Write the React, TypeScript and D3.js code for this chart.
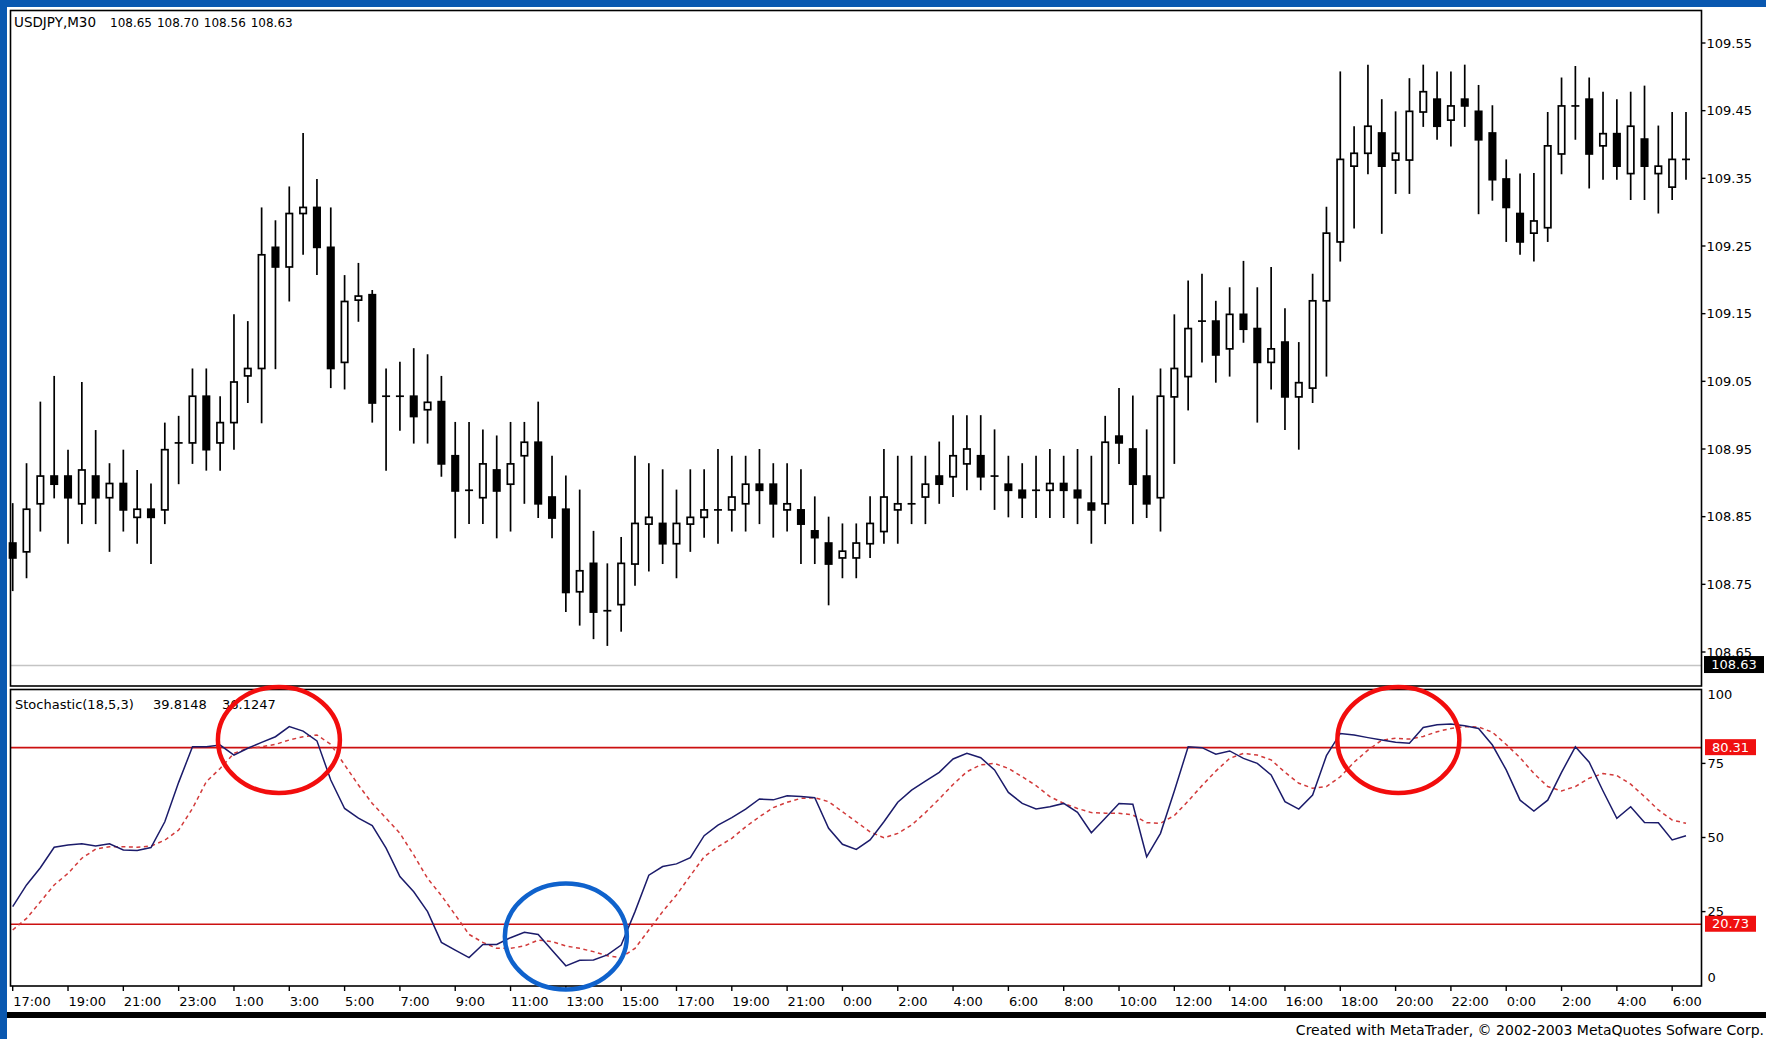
import React from 'react';
import * as d3 from 'd3';

// USDJPY M30 candles (open / high / low / close)
const opens = [
  108.811, 108.798, 108.869, 108.910, 108.910, 108.869, 108.910, 108.878, 108.899, 108.849,
  108.861, 108.860, 108.959, 108.959, 109.028, 108.959, 108.989, 109.058, 109.069, 109.248,
  109.219, 109.298, 109.307, 109.248, 109.078, 109.170, 109.178, 109.028, 109.028, 109.028,
  109.008, 109.020, 108.940, 108.889, 108.878, 108.919, 108.898, 108.940, 108.960, 108.879,
  108.861, 108.739, 108.781, 108.711, 108.720, 108.780, 108.839, 108.840, 108.810, 108.839,
  108.849, 108.860, 108.860, 108.869, 108.898, 108.898, 108.860, 108.860, 108.829, 108.811,
  108.789, 108.789, 108.810, 108.828, 108.860, 108.869, 108.879, 108.910, 108.909, 108.928,
  108.940, 108.910, 108.898, 108.889, 108.889, 108.889, 108.899, 108.889, 108.870, 108.869,
  108.969, 108.950, 108.910, 108.878, 109.027, 109.057, 109.139, 109.139, 109.098, 109.149,
  109.128, 109.078, 109.108, 109.027, 109.040, 109.169, 109.256, 109.368, 109.387, 109.417,
  109.377, 109.377, 109.448, 109.467, 109.436, 109.467, 109.449, 109.417, 109.349, 109.298,
  109.269, 109.277, 109.386, 109.457, 109.467, 109.398, 109.416, 109.357, 109.408, 109.357,
  109.337, 109.378,
];
const highs = [
  108.870, 108.929, 109.020, 109.058, 108.949, 109.049, 108.978, 108.929, 108.949, 108.919,
  108.899, 108.989, 108.999, 109.069, 109.069, 109.028, 109.149, 109.139, 109.307, 109.288,
  109.338, 109.417, 109.349, 109.307, 109.207, 109.225, 109.185, 109.069, 109.079, 109.099,
  109.090, 109.058, 108.990, 108.990, 108.979, 108.970, 108.990, 108.990, 109.020, 108.940,
  108.911, 108.890, 108.829, 108.781, 108.820, 108.940, 108.929, 108.920, 108.890, 108.920,
  108.920, 108.950, 108.940, 108.940, 108.950, 108.929, 108.929, 108.920, 108.880, 108.850,
  108.840, 108.840, 108.880, 108.950, 108.940, 108.940, 108.940, 108.961, 109.000, 109.000,
  109.000, 108.979, 108.940, 108.929, 108.940, 108.950, 108.940, 108.950, 108.940, 108.999,
  109.040, 109.029, 108.979, 109.069, 109.149, 109.199, 109.209, 109.169, 109.189, 109.228,
  109.189, 109.219, 109.158, 109.108, 109.209, 109.308, 109.508, 109.427, 109.518, 109.467,
  109.449, 109.498, 109.518, 109.508, 109.508, 109.518, 109.488, 109.458, 109.378, 109.357,
  109.358, 109.448, 109.499, 109.516, 109.499, 109.478, 109.467, 109.478, 109.487, 109.428,
  109.448, 109.448,
];
const lows = [
  108.740, 108.759, 108.828, 108.877, 108.810, 108.839, 108.839, 108.798, 108.828, 108.810,
  108.780, 108.839, 108.898, 108.928, 108.918, 108.918, 108.949, 109.018, 108.988, 109.068,
  109.168, 109.237, 109.207, 109.040, 109.038, 109.138, 108.989, 108.918, 108.977, 108.958,
  108.958, 108.909, 108.818, 108.839, 108.839, 108.818, 108.828, 108.869, 108.848, 108.818,
  108.709, 108.689, 108.669, 108.659, 108.680, 108.748, 108.769, 108.780, 108.759, 108.798,
  108.819, 108.810, 108.828, 108.828, 108.839, 108.819, 108.828, 108.780, 108.780, 108.719,
  108.759, 108.759, 108.789, 108.810, 108.810, 108.839, 108.839, 108.869, 108.879, 108.889,
  108.889, 108.860, 108.849, 108.848, 108.848, 108.848, 108.848, 108.839, 108.810, 108.839,
  108.928, 108.839, 108.848, 108.828, 108.928, 109.007, 109.078, 109.048, 109.057, 109.107,
  108.989, 109.038, 108.978, 108.949, 109.018, 109.057, 109.227, 109.276, 109.356, 109.268,
  109.327, 109.327, 109.426, 109.407, 109.397, 109.426, 109.297, 109.317, 109.256, 109.237,
  109.227, 109.256, 109.356, 109.407, 109.335, 109.348, 109.348, 109.318, 109.318, 109.298,
  109.318, 109.348,
];
const closes = [
  108.789, 108.861, 108.910, 108.898, 108.878, 108.919, 108.878, 108.899, 108.860, 108.861,
  108.849, 108.949, 108.959, 109.028, 108.949, 108.989, 109.049, 109.069, 109.237, 109.219,
  109.298, 109.307, 109.248, 109.069, 109.168, 109.176, 109.018, 109.028, 109.028, 108.998,
  109.019, 108.928, 108.888, 108.889, 108.928, 108.888, 108.928, 108.960, 108.869, 108.848,
  108.738, 108.770, 108.709, 108.711, 108.781, 108.840, 108.849, 108.810, 108.840, 108.849,
  108.860, 108.860, 108.879, 108.898, 108.889, 108.869, 108.869, 108.839, 108.819, 108.780,
  108.799, 108.811, 108.840, 108.879, 108.869, 108.869, 108.898, 108.898, 108.940, 108.950,
  108.909, 108.910, 108.889, 108.878, 108.889, 108.899, 108.889, 108.878, 108.860, 108.960,
  108.959, 108.898, 108.869, 109.028, 109.069, 109.128, 109.139, 109.089, 109.149, 109.127,
  109.078, 109.098, 109.027, 109.048, 109.169, 109.269, 109.378, 109.387, 109.427, 109.368,
  109.387, 109.449, 109.478, 109.427, 109.457, 109.457, 109.407, 109.348, 109.307, 109.256,
  109.287, 109.398, 109.457, 109.457, 109.386, 109.416, 109.368, 109.427, 109.368, 109.368,
  109.378, 109.378,
];

// Stochastic(18,5,3): %K main line and %D signal line
const stochMain = [
  26.7, 34.0, 39.8, 46.7, 47.5, 47.9, 47.1, 47.9, 45.8, 45.6,
  46.6, 55.3, 68.6, 80.6, 80.6, 81.2, 77.8, 80.1, 82.1, 84.0,
  87.4, 85.9, 82.6, 69.4, 59.8, 56.5, 54.0, 46.4, 36.8, 31.7,
  25.0, 14.6, 12.0, 9.5, 13.9, 13.9, 16.2, 18.0, 17.3, 12.0,
  6.7, 8.6, 8.7, 10.4, 13.7, 25.0, 37.3, 40.2, 41.1, 43.2,
  50.6, 54.2, 56.7, 59.6, 63.0, 62.7, 64.1, 63.8, 63.4, 53.1,
  47.7, 46.0, 49.2, 55.3, 61.9, 66.0, 69.0, 72.0, 76.5, 78.4,
  76.9, 72.8, 65.2, 61.5, 59.6, 60.4, 61.5, 58.5, 51.6, 56.5,
  61.5, 61.2, 43.5, 51.4, 65.7, 80.6, 80.3, 78.1, 79.2, 76.7,
  75.0, 71.1, 62.1, 59.6, 64.3, 77.6, 85.1, 84.6, 83.7, 82.9,
  82.1, 81.8, 87.1, 88.0, 88.3, 87.7, 86.8, 81.2, 72.8, 62.6,
  58.9, 62.6, 72.0, 80.6, 75.4, 65.7, 56.5, 60.4, 55.1, 55.0,
  49.2, 50.6,
];
const stochSignal = [
  18.8, 22.7, 28.3, 34.0, 37.9, 43.0, 46.1, 46.9, 46.9, 46.7,
  47.1, 49.1, 52.5, 59.8, 68.8, 73.3, 78.4, 80.1, 80.6, 81.4,
  82.9, 84.0, 84.6, 81.4, 74.5, 67.7, 61.5, 56.5, 51.4, 44.1,
  36.2, 30.4, 23.9, 17.3, 14.6, 12.6, 12.6, 13.4, 15.4, 14.9,
  13.4, 12.6, 11.5, 10.1, 9.5, 12.6, 18.8, 25.0, 30.6, 37.1,
  43.5, 46.9, 49.7, 53.6, 57.0, 60.1, 61.9, 63.2, 63.4, 62.1,
  58.7, 55.3, 51.9, 49.9, 51.4, 54.2, 58.4, 63.0, 67.9, 72.2,
  74.5, 75.0, 73.3, 70.5, 67.5, 63.8, 61.5, 59.8, 58.4, 58.2,
  58.2, 57.6, 55.0, 54.8, 57.4, 62.3, 67.5, 72.4, 76.7, 78.4,
  77.8, 76.2, 72.0, 68.3, 66.6, 67.2, 70.5, 75.4, 79.5, 82.8,
  83.5, 83.2, 84.1, 85.7, 86.8, 87.4, 87.3, 85.5, 81.4, 76.9,
  71.6, 67.2, 65.7, 67.2, 70.0, 71.6, 70.9, 68.0, 63.8, 59.3,
  55.9, 54.8,
];

const stochLevels = [80.31, 20.73];
const stochTicks = [100, 75, 50, 25, 0];
const priceTicks = [109.55, 109.45, 109.35, 109.25, 109.15, 109.05, 108.95, 108.85, 108.75, 108.65];
const lastPrice = 108.63;

// one label every 4 bars
const timeLabels = [
  '17:00', '19:00', '21:00', '23:00', '1:00', '3:00', '5:00', '7:00', '9:00', '11:00',
  '13:00', '15:00', '17:00', '19:00', '21:00', '0:00', '2:00', '4:00', '6:00', '8:00',
  '10:00', '12:00', '14:00', '16:00', '18:00', '20:00', '22:00', '0:00', '2:00', '4:00', '6:00',
];

const headerValues = ['108.65', '108.70', '108.56', '108.63'];
const stochValues = ['39.8148', '36.1247'];

// hand drawn circles: [bar index, stochastic value, colour]
const marks: [number, number, string][] = [
  [19.25, 82.9, '#f20d0d'],
  [40.0, 16.6, '#0f62cc'],
  [100.2, 82.9, '#f20d0d'],
];

const W = 1766;
const H = 1039;
const left = 10.5;
const right = 1701.5;
const top = 10.5;
const mainBottom = 686;
const subTop = 689.5;
const subBottom = 986;
const font = '"DejaVu Sans", Verdana, sans-serif';
const blue = '#0a58b0';

export default function App() {
  const n = closes.length;
  const x = d3.scaleLinear().domain([0, 121]).range([12.7, 1686]);
  const y = d3.scaleLinear().domain([108.65, 109.55]).range([652, 43]);
  const ys = d3.scaleLinear().domain([0, 100]).range([985.7, 689.3]);

  const lineK = d3.line<number>().x((_, i) => x(i)).y(d => ys(d));
  const bw = 6.4;

  return (
    <svg width={W} height={H} style={{ position: 'absolute', left: 0, top: 0, background: '#fff' }}
      fontFamily={font}>
      <rect x={0} y={0} width={W} height={H} fill="#fff" />
      <rect x={0} y={0} width={W} height={7} fill={blue} />
      <rect x={0} y={0} width={7} height={H} fill={blue} />

      {/* price line */}
      <line x1={left} x2={right} y1={y(lastPrice)} y2={y(lastPrice)} stroke="#c4c4c4" strokeWidth={1.4} />

      {/* candles */}
      <g stroke="#000" strokeWidth={1.7}>
        {d3.range(n).map(i => {
          const cx = x(i);
          const o = opens[i], c = closes[i];
          const y0 = y(Math.max(o, c));
          const y1 = y(Math.min(o, c));
          return (
            <g key={i}>
              <line x1={cx} x2={cx} y1={y(highs[i])} y2={y(lows[i])} />
              {Math.abs(y1 - y0) < 1.5
                ? <line x1={cx - 4} x2={cx + 4} y1={y(c)} y2={y(c)} />
                : <rect x={cx - bw / 2} y={y0} width={bw} height={y1 - y0} fill={c > o ? '#fff' : '#000'} />}
            </g>
          );
        })}
      </g>

      {/* stochastic levels */}
      {stochLevels.map(v => (
        <line key={v} x1={left} x2={right} y1={ys(v)} y2={ys(v)} stroke="#cc1010" strokeWidth={1.6} />
      ))}
      <path d={lineK(stochSignal) || ''} fill="none" stroke="#d23a3a" strokeWidth={1.5} strokeDasharray="4 3.5" />
      <path d={lineK(stochMain) || ''} fill="none" stroke="#1b1b6a" strokeWidth={1.5} />

      {/* frames */}
      <g fill="none" stroke="#000" strokeWidth={1.6}>
        <rect x={left} y={top} width={right - left} height={mainBottom - top} />
        <rect x={left} y={subTop} width={right - left} height={subBottom - subTop} />
      </g>

      {/* price axis */}
      <g fontSize={13} fill="#000">
        {priceTicks.map(p => (
          <g key={p}>
            <line x1={right} x2={right + 4} y1={y(p)} y2={y(p)} stroke="#000" strokeWidth={1.4} />
            <text x={right + 5} y={y(p)} dy="0.36em">{p.toFixed(2)}</text>
          </g>
        ))}
      </g>
      <rect x={1704} y={y(lastPrice) - 9.5} width={60} height={17} fill="#000" />
      <text x={1734} y={y(lastPrice) - 1} dy="0.36em" fontSize={13} fill="#fff" textAnchor="middle">
        {lastPrice.toFixed(2)}
      </text>

      {/* stochastic axis */}
      <g fontSize={13} fill="#000">
        {stochTicks.map(v => {
          const ty = Math.min(Math.max(ys(v), subTop + 5), subBottom - 9);
          return (
            <g key={v}>
              {v > 0 && v < 100 && (
                <line x1={right} x2={right + 4} y1={ys(v)} y2={ys(v)} stroke="#000" strokeWidth={1.4} />
              )}
              <text x={right + 6} y={ty} dy="0.36em">{v}</text>
            </g>
          );
        })}
      </g>
      {stochLevels.map(v => (
        <g key={'l' + v}>
          <rect x={1705} y={ys(v) - 8.5} width={51} height={16} fill="#f01010" />
          <text x={1730.5} y={ys(v) - 0.5} dy="0.36em" fontSize={13} fill="#fff" textAnchor="middle">
            {v.toFixed(2)}
          </text>
        </g>
      ))}

      {/* time axis */}
      <g fontSize={13} fill="#000">
        {timeLabels.map((t, k) => (
          <g key={k}>
            <line x1={x(k * 4)} x2={x(k * 4)} y1={subBottom} y2={subBottom + 5} stroke="#000" strokeWidth={1.4} />
            <text x={x(k * 4) + 0.5} y={1006}>{t}</text>
          </g>
        ))}
      </g>

      {/* headers */}
      <g fontSize={13} fill="#000">
        <text x={14} y={27} fontSize={13.5}>USDJPY,M30</text>
        {headerValues.map((v, i) => (
          <text key={i} x={110 + i * 46.9} y={27} fontSize={12}>{v}</text>
        ))}
        <text x={15} y={709}>Stochastic(18,5,3)</text>
        {stochValues.map((v, i) => (
          <text key={i} x={153 + i * 69} y={709}>{v}</text>
        ))}
      </g>

      {/* circled areas */}
      {marks.map(([b, v, col], i) => (
        <ellipse key={i} cx={x(b)} cy={ys(v)} rx={61} ry={53} fill="none" stroke={col} strokeWidth={4.5} />
      ))}

      {/* footer */}
      <rect x={7} y={1012} width={W - 7} height={6} fill="#000" />
      <text x={1764} y={1035} fontSize={14} textAnchor="end" fill="#000">
        Created with MetaTrader, © 2002-2003 MetaQuotes Sofware Corp.
      </text>
    </svg>
  );
}
